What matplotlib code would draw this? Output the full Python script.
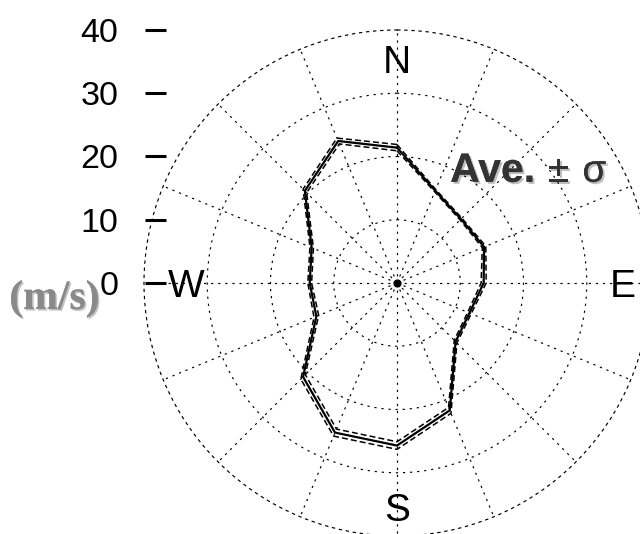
import numpy as np
import matplotlib
matplotlib.use('Agg')
import matplotlib.pyplot as plt
import matplotlib.patheffects as pe

plt.rcParams['font.family'] = ['Liberation Sans', 'DejaVu Sans']
plt.rcParams['lines.scale_dashes'] = False

# mean wind speed (m/s) and standard deviation for 16 compass directions
directions = ['N', 'NNE', 'NE', 'ENE', 'E', 'ESE', 'SE', 'SSE',
              'S', 'SSW', 'SW', 'WSW', 'W', 'WNW', 'NW', 'NNW']
ave = [21.4, 15.8, 14.3, 14.9, 13.7, 12.4, 13.1, 21.8,
       25.7, 25.6, 21.0, 13.8, 13.8, 14.6, 20.6, 24.3]
sigma = [0.5, 0.2, 0.2, 0.3, 0.4, 0.3, 0.3, 0.5,
         0.6, 0.6, 0.5, 0.4, 0.3, 0.3, 0.4, 0.5]
r_ticks = [0, 10, 20, 30, 40]
compass = ['N', 'E', 'S', 'W']

theta = np.deg2rad(np.arange(len(directions)) * 22.5)
th = np.append(theta, theta[0])
mean = np.append(ave, ave[0])
sd = np.append(sigma, sigma[0])

fig = plt.figure(figsize=(6.4, 5.34), dpi=100)
rect = [0.225, -0.003745, 0.790625, 0.947566]

ax = fig.add_axes(rect, projection='polar')
ax.set_theta_zero_location('N')
ax.set_theta_direction(-1)
ax.set_ylim(0, 40)
grid_ls = (0, (1.6, 3.5))
ax.set_rgrids([10, 20, 30], labels=[])
ax.set_thetagrids(np.arange(0, 360, 22.5), labels=[])
ax.grid(True, color='black', linewidth=0.85, linestyle=grid_ls)
ax.spines['polar'].set_linestyle(grid_ls)
ax.spines['polar'].set_linewidth(0.85)
ax.tick_params(length=0)

ax.plot(th, mean, color='black', lw=1.6, zorder=5)
ax.plot(th, mean + sd, color='black', lw=1.1, linestyle=(0, (4.3, 2.2)), zorder=4)
ax.plot(th, mean - sd, color='black', lw=1.1, linestyle=(0, (4.3, 2.2)), zorder=4)
ax.scatter([0], [0], s=24, color='black', zorder=6)

# cartesian overlay sharing the same scale, for the speed axis and labels
ax2 = fig.add_axes(rect)
ax2.set_xlim(-40, 40)
ax2.set_ylim(-40, 40)
ax2.set_facecolor('none')
for s in ax2.spines.values():
    s.set_visible(False)
ax2.spines['left'].set_position(('data', -36.5))
ax2.set_xticks([])
ax2.set_yticks(r_ticks)
ax2.set_yticklabels([str(v) for v in r_ticks])
ax2.tick_params(axis='y', direction='out', length=15, width=2.2,
                pad=19.5, labelsize=24.5, color='black')

pos = {'N': (0, 33.25, 'center'), 'E': (35.65, -2.2, 'center'),
       'S': (0, -37.6, 'center'), 'W': (-36.3, -2.2, 'left')}
for c in compass:
    x, y, ha = pos[c]
    ax2.text(x, y, c, fontsize=28, ha=ha, va='baseline', clip_on=False)

shadow = [pe.withSimplePatchShadow(offset=(1.5, -1.5), shadow_rgbFace='black', alpha=0.25), pe.Normal()]
ax2.text(8.4, 16.0, 'Ave.', fontsize=29.5, fontweight='bold', color='#333333',
         ha='left', va='baseline', path_effects=shadow)
ax2.text(23.9, 16.0, '±', fontsize=28, color='#333333',
         ha='left', va='baseline', path_effects=shadow)
ax2.text(29.3, 16.0, 'σ', fontsize=28, color='#333333',
         ha='left', va='baseline', path_effects=shadow)
ax2.text(-61.3, -4.1, '(m/s)', fontsize=30, fontweight='bold', color='#8a8a8a',
         family='Liberation Serif', ha='left', va='baseline', clip_on=False,
         path_effects=[pe.withSimplePatchShadow(offset=(1.2, -1.2), shadow_rgbFace='#555555', alpha=0.35), pe.Normal()])

fig.savefig('out.png', dpi=100, facecolor='white')
